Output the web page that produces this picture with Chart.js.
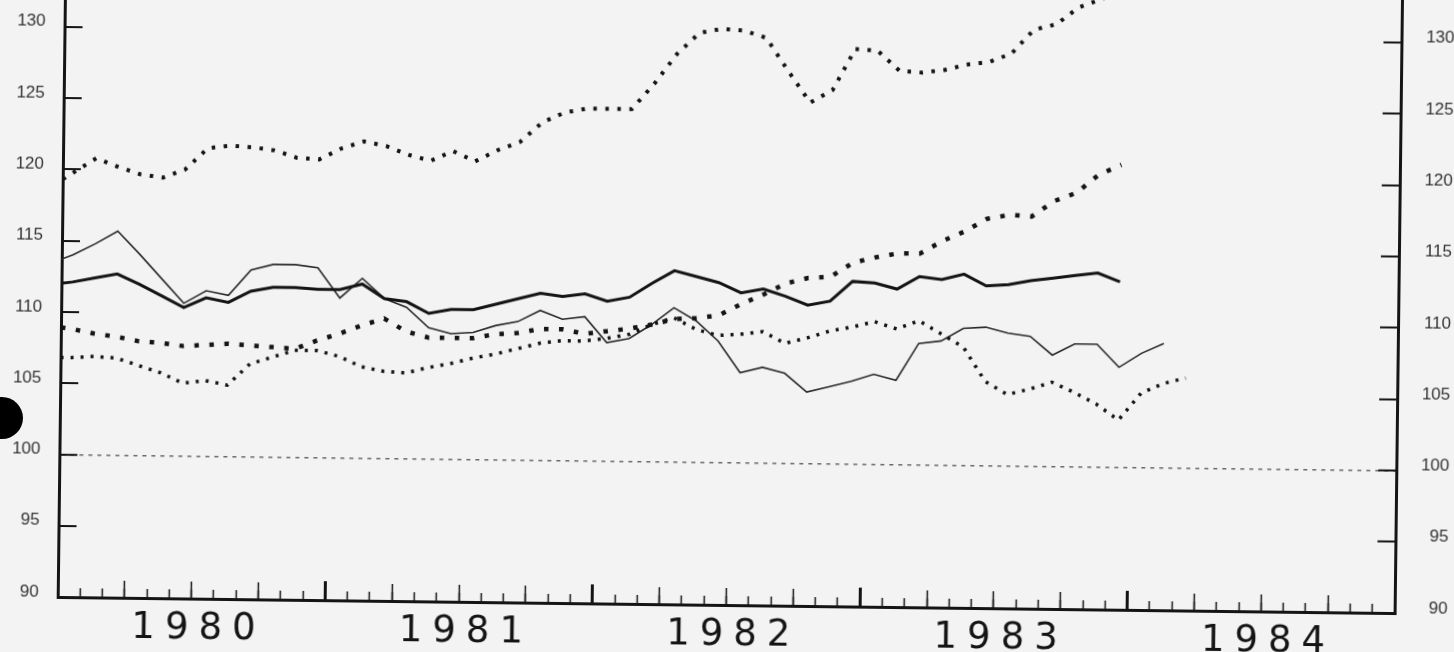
<!DOCTYPE html>
<html>
<head>
<meta charset="utf-8">
<script src="https://cdn.jsdelivr.net/npm/chart.js@4.4.1/dist/chart.umd.min.js"></script>
<style>
  html, body { margin: 0; padding: 0; }
  body { width: 1454px; height: 652px; overflow: hidden; background: #f3f3f3; position: relative; }
  /* the scan is a little tilted, so the whole chart is turned a bit */
  #tilt { position: absolute; left: 0; top: -40px; width: 1454px; height: 700px;
          transform: rotate(0.69deg); transform-origin: 727px 366px; }
  #hole { position: absolute; left: -19px; top: 397px; width: 42px; height: 42px;
          border-radius: 50%; background: #000; }
</style>
</head>
<body>
<div id="tilt"><canvas id="chart" width="1454" height="700"></canvas></div>
<div id="hole"></div>
<script>
// x in months from Jan 1980 (first value sits on the axis, the rest mid-month)
const monthPos = [0, 0.5, 1.5, 2.5, 3.5, 4.5, 5.5, 6.5, 7.5, 8.5, 9.5, 10.5, 11.5,
    12.5, 13.5, 14.5, 15.5, 16.5, 17.5, 18.5, 19.5, 20.5, 21.5, 22.5, 23.5,
    24.5, 25.5, 26.5, 27.5, 28.5, 29.5, 30.5, 31.5, 32.5, 33.5, 34.5, 35.5,
    36.5, 37.5, 38.5, 39.5, 40.5, 41.5, 42.5, 43.5, 44.5, 45.5, 46.5, 47.5,
    48.5, 49.5, 50.5];

const yearLabels = ['1980', '1981', '1982', '1983', '1984'];
const refLevel = 100;

// upper dotted series
const seriesTop = [119.3, 119.8, 120.8, 120.2, 119.7, 119.5, 120.1, 121.6, 121.8, 121.7,
    121.5, 121.0, 120.9, 121.7, 122.2, 121.9, 121.3, 120.9, 121.6, 120.9,
    121.7, 122.3, 123.7, 124.4, 124.7, 124.7, 124.7, 126.5, 128.6, 130.1,
    130.4, 130.3, 129.8, 127.5, 125.3, 126.2, 129.1, 129.0, 127.6, 127.5,
    127.7, 128.1, 128.3, 128.9, 130.6, 131.0, 132.2, 132.8, 133.5];

// square-dotted series that climbs in 1982-83
const seriesRising = [108.9, 108.8, 108.5, 108.3, 108.0, 107.9, 107.7, 107.8, 107.9, 107.8,
    107.7, 107.6, 108.2, 108.7, 109.3, 109.8, 108.9, 108.5, 108.5, 108.5,
    108.8, 108.9, 109.2, 109.2, 108.9, 109.1, 109.3, 109.6, 110.0, 110.1,
    110.3, 111.1, 111.8, 112.6, 113.0, 113.1, 114.1, 114.5, 114.8, 114.8,
    115.7, 116.4, 117.3, 117.6, 117.5, 118.6, 119.2, 120.5, 121.2];

// small-dotted series that falls in 1983
const seriesLow = [106.8, 106.8, 106.9, 106.8, 106.3, 105.8, 105.1, 105.3, 105.0, 106.5,
    107.0, 107.5, 107.5, 107.1, 106.4, 106.1, 106.0, 106.4, 106.7, 107.1,
    107.4, 107.8, 108.2, 108.4, 108.4, 108.6, 108.9, 109.6, 110.1, 109.3,
    108.9, 109.0, 109.2, 108.4, 108.8, 109.3, 109.6, 110.0, 109.5, 110.1,
    109.2, 108.3, 105.9, 105.0, 105.4, 105.9, 105.2, 104.4, 103.3, 105.2,
    105.9, 106.3];

// thick solid line
const seriesThick = [112.0, 112.1, 112.4, 112.7, 112.0, 111.2, 110.4, 111.1, 110.8, 111.6,
    111.9, 111.9, 111.8, 111.8, 112.2, 111.2, 111.0, 110.2, 110.5, 110.5,
    110.9, 111.3, 111.7, 111.5, 111.7, 111.2, 111.5, 112.5, 113.4, 113.0,
    112.6, 111.9, 112.2, 111.7, 111.1, 111.4, 112.8, 112.7, 112.3, 113.2,
    113.0, 113.4, 112.6, 112.7, 113.0, 113.2, 113.4, 113.6, 113.0];

// thin solid line
const seriesThin = [113.7, 114.0, 114.8, 115.7, 114.1, 112.4, 110.7, 111.6, 111.3, 113.1,
    113.5, 113.5, 113.3, 111.2, 112.6, 111.2, 110.6, 109.2, 108.8, 108.9,
    109.4, 109.7, 110.5, 109.9, 110.1, 108.3, 108.6, 109.6, 110.8, 109.9,
    108.5, 106.3, 106.7, 106.3, 105.0, 105.4, 105.8, 106.3, 105.9, 108.5,
    108.7, 109.6, 109.7, 109.3, 109.1, 107.8, 108.6, 108.6, 107.0, 108.0,
    108.7];

function toPoints(values) {
    return values.map((v, i) => ({ x: monthPos[i], y: v }));
}

const ink = '#141414';

const data = {
    datasets: [
    {
        label: 'top',
        data: toPoints(seriesTop),
        borderColor: ink,
        borderWidth: 4,
        borderDash: [3.5, 8.5],
        borderCapStyle: 'butt'
    },
    {
        label: 'rising',
        data: toPoints(seriesRising),
        borderColor: ink,
        borderWidth: 4.5,
        borderDash: [4.5, 10.5],
        borderCapStyle: 'butt'
    },
    {
        label: 'low',
        data: toPoints(seriesLow),
        borderColor: ink,
        borderWidth: 3.5,
        borderDash: [3, 7],
        borderCapStyle: 'butt'
    },
    {
        label: 'thick',
        data: toPoints(seriesThick),
        borderColor: ink,
        borderWidth: 3
    },
    {
        label: 'thin',
        data: toPoints(seriesThin),
        borderColor: '#2a2a2a',
        borderWidth: 1.6
    }]
};

// x scales that only carry tick marks (yearly, quarterly, monthly)
function markAxis(step, len, width, weight, withBorder) {
    return {
        type: 'linear',
        position: 'bottom',
        min: 0,
        max: 60,
        weight: weight,
        ticks: { display: false, stepSize: step },
        grid: { drawOnChartArea: false, drawTicks: true, tickLength: -len, tickWidth: width, tickColor: ink },
        border: { display: withBorder, width: 3, color: ink },
        afterFit: function(s) { s.height = 0; }
    };
}

// y axes: fixed width, and no extra room reserved above/below for labels
function fixY(width) {
    return function(s) {
        s.width = width;
        s.paddingTop = 0;
        s.paddingBottom = 0;
    };
}

const yTickFont = { family: 'Liberation Sans', size: 17 };

// year labels are drawn with wide letter spacing like the original lettering
const wideLabels = {
    id: 'wideLabels',
    afterDatasetsDraw(chart) { chart.ctx.letterSpacing = '10px'; },
    afterDraw(chart) { chart.ctx.letterSpacing = '0px'; }
};

const config = {
    type: 'line',
    data: data,
    plugins: [wideLabels],
    options: {
        responsive: false,
        animation: false,
        layout: { padding: { top: 17.6, right: 3, bottom: 0, left: 0 } },
        elements: { point: { radius: 0 }, line: { tension: 0 } },
        plugins: { legend: { display: false }, tooltip: { enabled: false } },
        scales: {
            x: markAxis(12, 19, 3, 0, true),
            xq: markAxis(3, 17, 1.5, 1, false),
            xm: markAxis(1, 9, 1.5, 2, false),
            xl: {
                type: 'linear',
                position: 'bottom',
                min: 0,
                max: 60,
                weight: 3,
                grid: { display: false, drawTicks: false },
                border: { display: false },
                afterBuildTicks: function(s) {
                    s.ticks = yearLabels.map((l, i) => ({ value: i * 12 + 6 }));
                },
                ticks: {
                    autoSkip: false,
                    maxRotation: 0,
                    padding: 8,
                    labelOffset: 7.5,
                    z: 1,
                    color: ink,
                    font: { family: 'DejaVu Sans', size: 37 },
                    callback: function(v, i) { return yearLabels[i]; }
                },
                afterFit: function(s) { s.height = 55; }
            },
            y: {
                type: 'linear',
                position: 'left',
                min: 90,
                max: 134,
                ticks: { stepSize: 5, includeBounds: false, padding: 37, labelOffset: -5, color: '#333', font: yTickFont },
                grid: {
                    drawOnChartArea: true,
                    lineWidth: c => (c.tick && c.tick.value === refLevel ? 1.5 : 0),
                    color: '#6a6a6a',
                    drawTicks: true,
                    tickLength: -18,
                    tickWidth: 2,
                    tickColor: ink
                },
                border: { display: true, width: 3, color: ink, dash: [4, 5] },
                afterFit: fixY(61)
            },
            y2: {
                type: 'linear',
                position: 'right',
                min: 90,
                max: 134,
                ticks: { stepSize: 5, includeBounds: false, crossAlign: 'far', labelOffset: -5, color: '#333', font: yTickFont },
                grid: { drawOnChartArea: false, drawTicks: true, tickLength: -18, tickWidth: 2, tickColor: ink },
                border: { display: true, width: 3, color: ink },
                afterFit: fixY(53)
            }
        }
    }
};

window.onload = function() {
    var ctx = document.getElementById('chart').getContext('2d');
    window.myChart = new Chart(ctx, config);
};
</script>
</body>
</html>
